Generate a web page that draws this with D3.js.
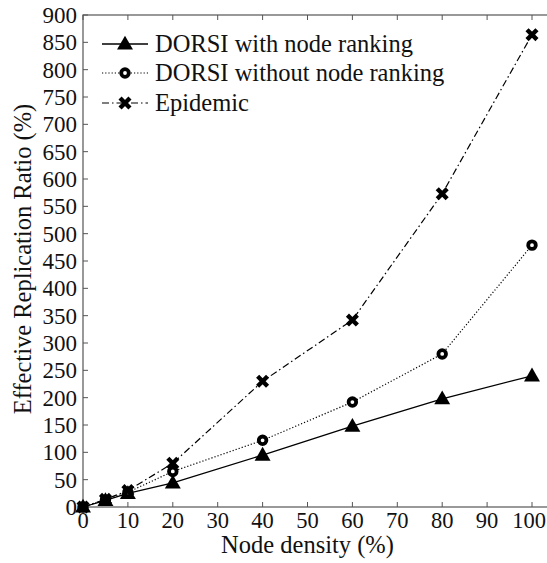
<!DOCTYPE html>
<html>
<head>
<meta charset="utf-8">
<script src="https://cdn.jsdelivr.net/npm/d3@7"></script>
<style>
  html, body { margin: 0; padding: 0; background: #fff; }
  svg { display: block; }
</style>
</head>
<body>
<svg id="chart" width="547" height="563"></svg>
<script>
// Node density (%) on the x axis
const density = [0, 5, 10, 20, 40, 60, 80, 100];

// Effective replication ratio (%) for each protocol
const withRanking    = [0, 12, 25, 44, 95, 148, 198, 240];
const withoutRanking = [0, 13, 27, 65, 122, 192, 280, 479];
const epidemic       = [0, 14, 30, 80, 230, 342, 573, 864];

const seriesNames = ["DORSI with node ranking", "DORSI without node ranking", "Epidemic"];

const xTicks = [0, 10, 20, 30, 40, 50, 60, 70, 80, 90, 100];
const yTicks = d3.range(0, 901, 50);

const W = 547;
const plot = { left: 83, right: 548, top: 15, bottom: 507 };
const FONT = "'Liberation Serif', 'Times New Roman', serif";

const svg = d3.select("#chart");

const x = d3.scaleLinear().domain([0, 100]).range([plot.left, 532]);
const y = d3.scaleLinear().domain([0, 900]).range([plot.bottom, plot.top]);

function label(sel, size) {
  return sel.style("font-family", FONT).style("font-size", size + "px").attr("fill", "#111");
}

// frame
svg.append("rect")
  .attr("x", plot.left).attr("y", plot.top)
  .attr("width", plot.right - plot.left).attr("height", plot.bottom - plot.top)
  .attr("fill", "none").attr("stroke", "#555").attr("stroke-width", 1.2);

// inward ticks, bottom and top
const tickLen = 5;
const gx = svg.append("g");
xTicks.forEach(t => {
  gx.append("line").attr("x1", x(t)).attr("x2", x(t))
    .attr("y1", plot.bottom).attr("y2", plot.bottom - tickLen)
    .attr("stroke", "#555").attr("stroke-width", 1);
  gx.append("line").attr("x1", x(t)).attr("x2", x(t))
    .attr("y1", plot.top).attr("y2", plot.top + tickLen)
    .attr("stroke", "#555").attr("stroke-width", 1);
  const txt = label(gx.append("text"), 22.5)
    .attr("x", x(t)).attr("y", 528)
    .attr("text-anchor", "middle")
    .text(t);
  // keep the last label inside the page edge
  const bb = txt.node().getBBox();
  if (bb.x + bb.width > W - 1) {
    txt.attr("text-anchor", "end").attr("x", W - 1);
  }
});

const gy = svg.append("g");
yTicks.forEach(t => {
  gy.append("line").attr("x1", plot.left).attr("x2", plot.left + tickLen)
    .attr("y1", y(t)).attr("y2", y(t))
    .attr("stroke", "#555").attr("stroke-width", 1);
  label(gy.append("text"), 23)
    .attr("x", 77).attr("y", y(t) + 8)
    .attr("text-anchor", "end")
    .text(t);
});

// axis titles
label(svg.append("text"), 24.5)
  .attr("x", (plot.left + 532) / 2).attr("y", 553)
  .attr("text-anchor", "middle")
  .text("Node density (%)");
label(svg.append("text"), 24.5)
  .attr("transform", `translate(31, 259) rotate(-90)`)
  .attr("text-anchor", "middle")
  .text("Effective Replication Ratio (%)");

// series styling
const styles = [
  { values: withRanking, dash: null, marker: "triangle", width: 1.3 },
  { values: withoutRanking, dash: "1.2,2", marker: "circle", width: 1.2 },
  { values: epidemic, dash: "7,3,1.5,3", marker: "cross", width: 1.2 }
];

function drawMarker(g, type, cx, cy) {
  if (type === "triangle") {
    g.append("path")
      .attr("d", d3.symbol().type(d3.symbolTriangle).size(110)())
      .attr("transform", `translate(${cx},${cy + 1})`)
      .attr("fill", "#000");
  } else if (type === "circle") {
    g.append("circle").attr("cx", cx).attr("cy", cy).attr("r", 3.8)
      .attr("fill", "#fff").attr("stroke", "#000").attr("stroke-width", 3.8);
  } else {
    g.append("path")
      .attr("d", d3.symbol().type(d3.symbolX).size(66)())
      .attr("transform", `translate(${cx},${cy})`)
      .attr("fill", "none").attr("stroke", "#000").attr("stroke-width", 4.4);
  }
}

const line = d3.line().x((d, i) => x(density[i])).y(d => y(d));

styles.forEach(s => {
  const g = svg.append("g");
  g.append("path").datum(s.values)
    .attr("d", line)
    .attr("fill", "none").attr("stroke", "#000")
    .attr("stroke-width", s.width)
    .attr("stroke-dasharray", s.dash);
  s.values.forEach((v, i) => drawMarker(g, s.marker, x(density[i]), y(v)));
});

// legend
const legend = svg.append("g");
const legendRows = [44, 73, 103];
styles.forEach((s, i) => {
  const ly = legendRows[i];
  legend.append("line").attr("x1", 102).attr("x2", 148)
    .attr("y1", ly).attr("y2", ly)
    .attr("stroke", "#000").attr("stroke-width", s.width)
    .attr("stroke-dasharray", s.dash);
  drawMarker(legend, s.marker, 125, ly);
  label(legend.append("text"), 24.5)
    .attr("x", 155).attr("y", ly + 7.5)
    .text(seriesNames[i]);
});
</script>
</body>
</html>
